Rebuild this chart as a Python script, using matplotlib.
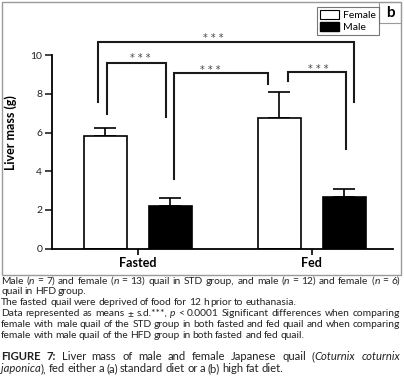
import re
import matplotlib
matplotlib.use("Agg")
import matplotlib.pyplot as plt
from matplotlib.patches import Rectangle, Patch

plt.rcParams["font.family"] = ["Lato", "DejaVu Sans"]

# data
groups = ["Fasted", "Fed"]
female_mean = [5.83, 6.75]
female_sd = [0.42, 1.33]
male_mean = [2.2, 2.65]
male_sd = [0.4, 0.43]

# significance brackets: x1, x2, bar height, left leg end, right leg end
brackets = [
    (-0.23, 1.24, 10.7, 7.6, 7.6),
    (-0.18, 0.16, 9.6, 6.95, 6.8),
    (0.205, 0.75, 9.1, 3.58, 8.5),
    (0.862, 1.194, 9.15, 8.65, 5.13),
]
# star labels (x, baseline y)
star_pos = [(0.431, 10.72), (0.011, 9.71), (0.414, 9.07), (1.036, 9.14)]

# caption lines: (text, baseline y px, justified); _x_ = italic, ^x^ = bold
notes = [
    ("Male (_n_ = 7) and female (_n_ = 13) quail in STD group, and male (_n_ = 12) and female (_n_ = 6)", 283.5, True),
    ("quail in HFD group.", 293.5, False),
    ("The fasted quail were deprived of food for 12 h prior to euthanasia.", 305, False),
    ("Data represented as means \u00b1 s.d.***, _p_ < 0.0001 Significant differences when comparing", 316, True),
    ("female with male quail of the STD group in both fasted and fed quail and when comparing", 327, True),
    ("female with male quail of the HFD group in both fasted and fed quail.", 338, False),
]
title_lines = [
    ("^FIGURE^ ^7:^ Liver mass of male and female Japanese quail (_Coturnix_ _coturnix_", 360, True),
    ("_japonica_), fed either a (a) standard diet or a (b) high fat diet.", 372, False),
]

fig = plt.figure(figsize=(4.04, 3.85), dpi=100)
W, H = 404, 385
renderer = fig.canvas.get_renderer()


def draw_line(markup, ybase, size, justify, x0=1.0, x1=400.0):
    words = []
    for word in markup.split(" "):
        runs = []
        for part in re.split(r"(_[^_]+_|\^[^^]+\^)", word):
            if not part:
                continue
            kw = {}
            if part.startswith("_"):
                part, kw = part[1:-1], {"fontstyle": "italic"}
            elif part.startswith("^"):
                part, kw = part[1:-1], {"fontweight": "bold"}
            t = fig.text(0, 1 - ybase / H, part, fontsize=size, va="baseline",
                         ha="left", color="#222222", **kw)
            runs.append((t, t.get_window_extent(renderer).width))
        words.append(runs)
    widths = [sum(w for _, w in runs) for runs in words]
    space = size * 0.2 * 100 / 72
    if justify and len(words) > 1:
        space = max(space * 0.6, (x1 - x0 - sum(widths)) / (len(words) - 1))
    x = x0
    for runs, wsum in zip(words, widths):
        xx = x
        for t, w in runs:
            t.set_x(xx / W)
            xx += w
        x += wsum + space


# outer frame of the panel
fig.patches.append(Rectangle((2 / W, 1 - 275 / H), 399 / W, 273 / H,
                             transform=fig.transFigure, fill=False,
                             edgecolor="#9a9a9a", linewidth=1.0))
# "b" box
fig.patches.append(Rectangle((379 / W, 1 - 23 / H), 22 / W, 21 / H,
                             transform=fig.transFigure, fill=False,
                             edgecolor="#9a9a9a", linewidth=0.8))
fig.text(390 / W, 1 - 13 / H, "b", fontsize=11, fontweight="bold",
         ha="center", va="center")

ax = fig.add_axes([52 / W, (H - 248.6) / H, 341 / W, 222.5 / H])
x = list(range(len(groups)))
off = 0.187
bw = 0.25
xf = [i - off for i in x]
xm = [i + off for i in x]

ax.bar(xf, female_mean, width=bw, color="white", edgecolor="black",
       linewidth=1.2, label="Female", zorder=2)
ax.bar(xm, male_mean, width=bw, color="black", edgecolor="black",
       linewidth=1.2, label="Male", zorder=2)
ax.errorbar(xf, female_mean, yerr=[[0, 0], female_sd], fmt="none",
            ecolor="black", elinewidth=1.2, capsize=8, capthick=1.2, zorder=1)
ax.errorbar(xm, male_mean, yerr=[[0, 0], male_sd], fmt="none",
            ecolor="black", elinewidth=1.2, capsize=8, capthick=1.2, zorder=3)

for (x1, x2, y, l1, l2) in brackets:
    ax.plot([x1, x1, x2, x2], [l1, y, y, l2], color="#1a1a1a", lw=1.5,
            clip_on=False, solid_joinstyle="miter")
for (sx, sy) in star_pos:
    ax.text(sx, sy, "* * *", ha="center", va="baseline", fontsize=7,
            family="DejaVu Sans", color="#444444")

ax.set_xlim(-0.494, 1.466)
ax.set_ylim(0, 11.5)
ax.set_yticks([0, 2, 4, 6, 8, 10])
ax.set_xticks(x)
ax.set_xticklabels(groups, fontsize=9, fontweight="bold")
ax.tick_params(axis="y", labelsize=7.5, length=5, width=1.2, pad=2,
               colors="#222222")
ax.tick_params(axis="x", length=4, width=1.2, pad=2)
for s in ["top", "right"]:
    ax.spines[s].set_visible(False)
ax.spines["left"].set_bounds(0, 10)
ax.spines["left"].set_linewidth(1.3)
ax.spines["bottom"].set_linewidth(1.3)
ax.set_ylabel("Liver mass (g)", fontsize=9, fontweight="bold")
ax.yaxis.set_label_coords(-0.103, 0.52)

handles = [Patch(facecolor="white", edgecolor="black", linewidth=0.8),
           Patch(facecolor="black", edgecolor="black")]
leg = fig.legend(handles, ["Female", "Male"], loc="upper left",
                 bbox_to_anchor=(317 / W, 1 - 7 / H), fontsize=7.5,
                 frameon=True, fancybox=False, edgecolor="#555555",
                 handlelength=1.8, handleheight=0.9, handletextpad=0.4,
                 borderpad=0.3, labelspacing=0.2, borderaxespad=0)
leg.get_frame().set_linewidth(0.8)

for markup, yb, just in notes:
    draw_line(markup, yb, 7.4, just)
for markup, yb, just in title_lines:
    draw_line(markup, yb, 8.1, just)

fig.savefig("out.png", dpi=100)
